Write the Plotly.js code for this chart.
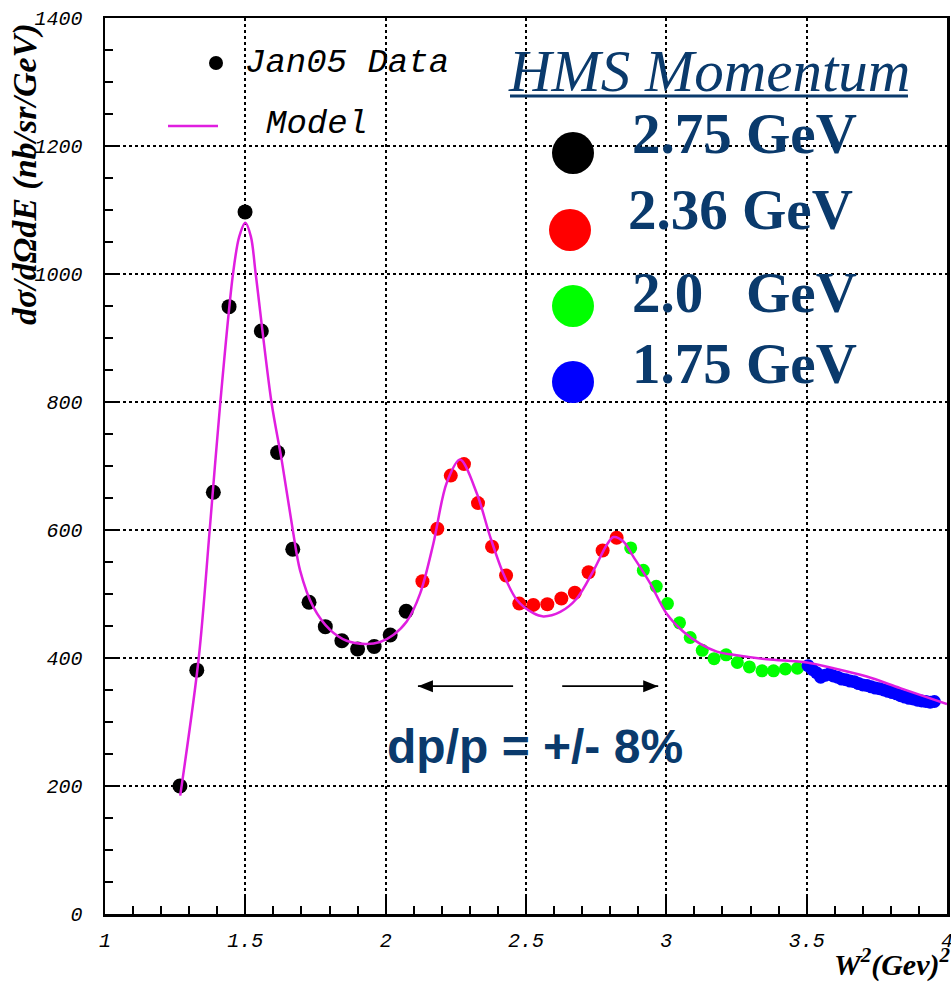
<!DOCTYPE html>
<html>
<head>
<meta charset="utf-8">
<script src="https://cdn.plot.ly/plotly-3.0.1.min.js"></script>
<style>
  html, body { margin: 0; padding: 0; background: #fff; }
  #chart { width: 951px; height: 987px; }
</style>
</head>
<body>
<div id="chart"></div>
<script>
// W^2 (GeV^2) and cross section (nb/sr/GeV) for each HMS momentum setting
const w2_275 = [1.267, 1.327, 1.386, 1.442, 1.499, 1.557, 1.615, 1.669, 1.727, 1.785, 1.844, 1.900, 1.959, 2.016, 2.073];
const xs_275 = [200, 381, 659, 949, 1097, 911, 721, 570, 487, 449, 427, 414, 418, 436, 473];

const w2_236 = [2.131, 2.184, 2.232, 2.279, 2.329, 2.379, 2.429, 2.476, 2.526, 2.576, 2.626, 2.674, 2.723, 2.773, 2.823];
const xs_236 = [520, 602, 685, 703, 642, 574, 529, 485, 483, 484, 493, 502, 534, 568, 588];

const w2_200 = [2.873, 2.918, 2.964, 3.004, 3.047, 3.085, 3.128, 3.170, 3.213, 3.253, 3.296, 3.341, 3.382, 3.424, 3.467];
const xs_200 = [572, 537, 512, 485, 455, 432, 412, 399, 405, 393, 386, 380, 380, 383, 384];

const w2_175 = [3.505, 3.520, 3.535, 3.550, 3.565, 3.580, 3.595, 3.610, 3.625, 3.640, 3.655, 3.670, 3.685, 3.700,
                3.715, 3.730, 3.745, 3.760, 3.775, 3.790, 3.805, 3.820, 3.835, 3.850, 3.865, 3.880, 3.895, 3.910,
                3.925, 3.940, 3.955];
const xs_175 = [388, 382, 377, 370, 373, 375, 372, 370, 367, 366, 364, 363, 360, 358,
                357, 355, 353, 352, 350, 348, 346, 344, 341, 339, 337, 336, 334, 333,
                332, 331, 332];

// Model curve
const w2_model = [1.268, 1.334, 1.373, 1.411, 1.456, 1.478, 1.500, 1.520, 1.537, 1.593, 1.630, 1.669, 1.695, 1.742,
                  1.802, 1.861, 1.927, 1.980, 2.027, 2.075, 2.123, 2.170, 2.217, 2.265, 2.325, 2.372, 2.419, 2.467,
                  2.526, 2.562, 2.622, 2.681, 2.741, 2.788, 2.812, 2.847, 2.883, 2.942, 3.000, 3.061, 3.121, 3.180,
                  3.239, 3.358, 3.501, 3.596, 3.714, 3.833, 4.000];
const xs_model = [185, 400, 600, 800, 1000, 1058, 1080, 1058, 1000, 800, 708, 600, 537, 480,
                  444, 427, 422, 425, 436, 457, 501, 579, 673, 710, 657, 590, 532, 491,
                  470, 465, 472, 493, 537, 577, 589, 582, 558, 517, 470, 441, 422, 410,
                  405, 398, 393, 384, 371, 353, 328];

const momentumLabels = ['2.75 GeV', '2.36 GeV', '2.0\u00a0\u00a0 GeV', '1.75 GeV'];
const momentumColors = ['#000000', '#ff0000', '#00ff00', '#0000ff'];

const xTicks = [1, 1.5, 2, 2.5, 3, 3.5, 4];
const yTicks = [0, 200, 400, 600, 800, 1000, 1200, 1400];

// acceptance window drawn as arrows (W^2 end points) at a fixed height
const accLeft = [2.454, 2.115];
const accRight = [2.629, 2.971];
const accY = 356;

// plot-area frame in page pixels, used to place the decorations
const L = 105, R = 947, T = 18, B = 914;
const px = x => (x - L) / (R - L);
const py = y => (B - y) / (B - T);

const navy = '#0a3a6c';
const magenta = '#e01ee0';

function pts(x, y, color, size) {
  return { x, y, type: 'scatter', mode: 'markers', hoverinfo: 'x+y',
           marker: { color, size, line: { width: 0 } } };
}

const traces = [
  pts(w2_275, xs_275, momentumColors[0], 15),
  pts(w2_236, xs_236, momentumColors[1], 14),
  pts(w2_200, xs_200, momentumColors[2], 13),
  pts(w2_175, xs_175, momentumColors[3], 13),
  { x: w2_model, y: xs_model, type: 'scatter', mode: 'lines',
    line: { color: magenta, width: 2.5, shape: 'spline', smoothing: 0.9 } }
];

const tickFont = { family: 'Liberation Mono, Courier New, monospace', size: 20, style: 'italic', color: '#000' };

const shapes = [];
const annotations = [];

// PAW-style key: data dot and model line
shapes.push({ type: 'circle', xref: 'paper', yref: 'paper', xsizemode: 'pixel', ysizemode: 'pixel',
  xanchor: px(216), yanchor: py(63), x0: -7, x1: 7, y0: -7, y1: 7,
  fillcolor: '#000', line: { width: 0 } });
annotations.push({ xref: 'paper', yref: 'paper', x: px(243), y: py(63), xanchor: 'left', yanchor: 'middle',
  text: 'Jan05 Data', showarrow: false,
  font: { family: 'Liberation Mono, Courier New, monospace', size: 34, style: 'italic', color: '#000' } });
shapes.push({ type: 'line', xref: 'paper', yref: 'paper', x0: px(168), x1: px(218), y0: py(126), y1: py(126),
  line: { color: magenta, width: 2.5 } });
annotations.push({ xref: 'paper', yref: 'paper', x: px(264), y: py(124), xanchor: 'left', yanchor: 'middle',
  text: 'Model', showarrow: false,
  font: { family: 'Liberation Mono, Courier New, monospace', size: 34, style: 'italic', color: '#000' } });

// HMS momentum key
annotations.push({ xref: 'paper', yref: 'paper', x: px(506), y: py(71), xanchor: 'left', yanchor: 'middle',
  text: 'HMS Momentum', showarrow: false,
  font: { family: 'Liberation Serif, Times New Roman, serif', size: 59, style: 'italic', color: navy } });
shapes.push({ type: 'line', xref: 'paper', yref: 'paper', x0: px(510), x1: px(908), y0: py(96), y1: py(96),
  line: { color: navy, width: 3 } });

const keyDots = [[573, 153], [570, 230], [573, 306], [573, 382]];
const keyText = [[630, 133], [626, 209], [630, 292], [630, 363]];
momentumLabels.forEach((lab, i) => {
  shapes.push({ type: 'circle', xref: 'paper', yref: 'paper', xsizemode: 'pixel', ysizemode: 'pixel',
    xanchor: px(keyDots[i][0]), yanchor: py(keyDots[i][1]), x0: -21, x1: 21, y0: -21, y1: 21,
    fillcolor: momentumColors[i], line: { width: 0 } });
  annotations.push({ xref: 'paper', yref: 'paper', x: px(keyText[i][0]), y: py(keyText[i][1]),
    xanchor: 'left', yanchor: 'middle', text: '<b>' + lab + '</b>', showarrow: false,
    font: { family: 'Liberation Serif, Times New Roman, serif', size: 57, color: navy } });
});

// momentum acceptance arrows: shaft plus filled head
[[accLeft, 1], [accRight, -1]].forEach(([seg, dir]) => {
  const head = seg[1];
  shapes.push({ type: 'line', xref: 'x', yref: 'y', x0: seg[0], x1: head, y0: accY, y1: accY,
    line: { color: '#000', width: 1.8 } });
  shapes.push({ type: 'path', xref: 'x', yref: 'y', xsizemode: 'pixel', ysizemode: 'pixel',
    xanchor: head, yanchor: accY,
    path: `M 0 0 L ${15 * dir} 6 L ${15 * dir} -6 Z`,
    fillcolor: '#000', line: { width: 0 } });
});
annotations.push({ xref: 'paper', yref: 'paper', x: px(385), y: py(746), xanchor: 'left', yanchor: 'middle',
  text: '<b>dp/p = +/- 8%</b>', showarrow: false,
  font: { family: 'Liberation Sans, Arial, sans-serif', size: 48, color: navy } });

// axis titles
annotations.push({ xref: 'paper', yref: 'paper', x: px(25), y: py(174), xanchor: 'center', yanchor: 'middle',
  textangle: -90, text: '<b><i>dσ/dΩdE (nb/sr/GeV)</i></b>', showarrow: false,
  font: { family: 'Liberation Serif, Times New Roman, serif', size: 34, color: '#000' } });
annotations.push({ xref: 'paper', yref: 'paper', x: px(952), y: py(962), xanchor: 'right', yanchor: 'middle',
  text: '<b><i>W<sup>2</sup>(Gev)<sup>2</sup></i></b>', showarrow: false,
  font: { family: 'Liberation Serif, Times New Roman, serif', size: 30, color: '#000' } });

const layout = {
  width: 951, height: 987,
  margin: { l: L, r: 951 - R, t: T, b: 987 - B, pad: 0 },
  paper_bgcolor: '#fff', plot_bgcolor: '#fff',
  showlegend: false,
  xaxis: {
    range: [1, 4], tickvals: xTicks, ticktext: xTicks.map(String),
    ticks: 'inside', ticklen: 19, tickwidth: 2, tickcolor: '#000',
    minor: { dtick: 0.1, ticks: 'inside', ticklen: 8, tickwidth: 2, tickcolor: '#000', showgrid: false },
    showgrid: true, gridcolor: '#000', gridwidth: 2, griddash: 'dot',
    showline: true, linecolor: '#000', linewidth: 2.5, mirror: true,
    zeroline: false, tickfont: tickFont, ticklabelstandoff: 6, ticklabeloverflow: 'allow'
  },
  yaxis: {
    range: [0, 1400], tickvals: yTicks, ticktext: yTicks.map(String),
    ticks: 'inside', ticklen: 15, tickwidth: 2, tickcolor: '#000',
    minor: { dtick: 50, ticks: 'inside', ticklen: 8, tickwidth: 2, tickcolor: '#000', showgrid: false },
    showgrid: true, gridcolor: '#000', gridwidth: 2, griddash: 'dot',
    showline: true, linecolor: '#000', linewidth: 2.5, mirror: true,
    zeroline: false, tickfont: tickFont, ticklabelstandoff: 16, ticklabeloverflow: 'allow'
  },
  shapes, annotations
};

Plotly.newPlot('chart', traces, layout, { staticPlot: true, displayModeBar: false });
</script>
</body>
</html>
